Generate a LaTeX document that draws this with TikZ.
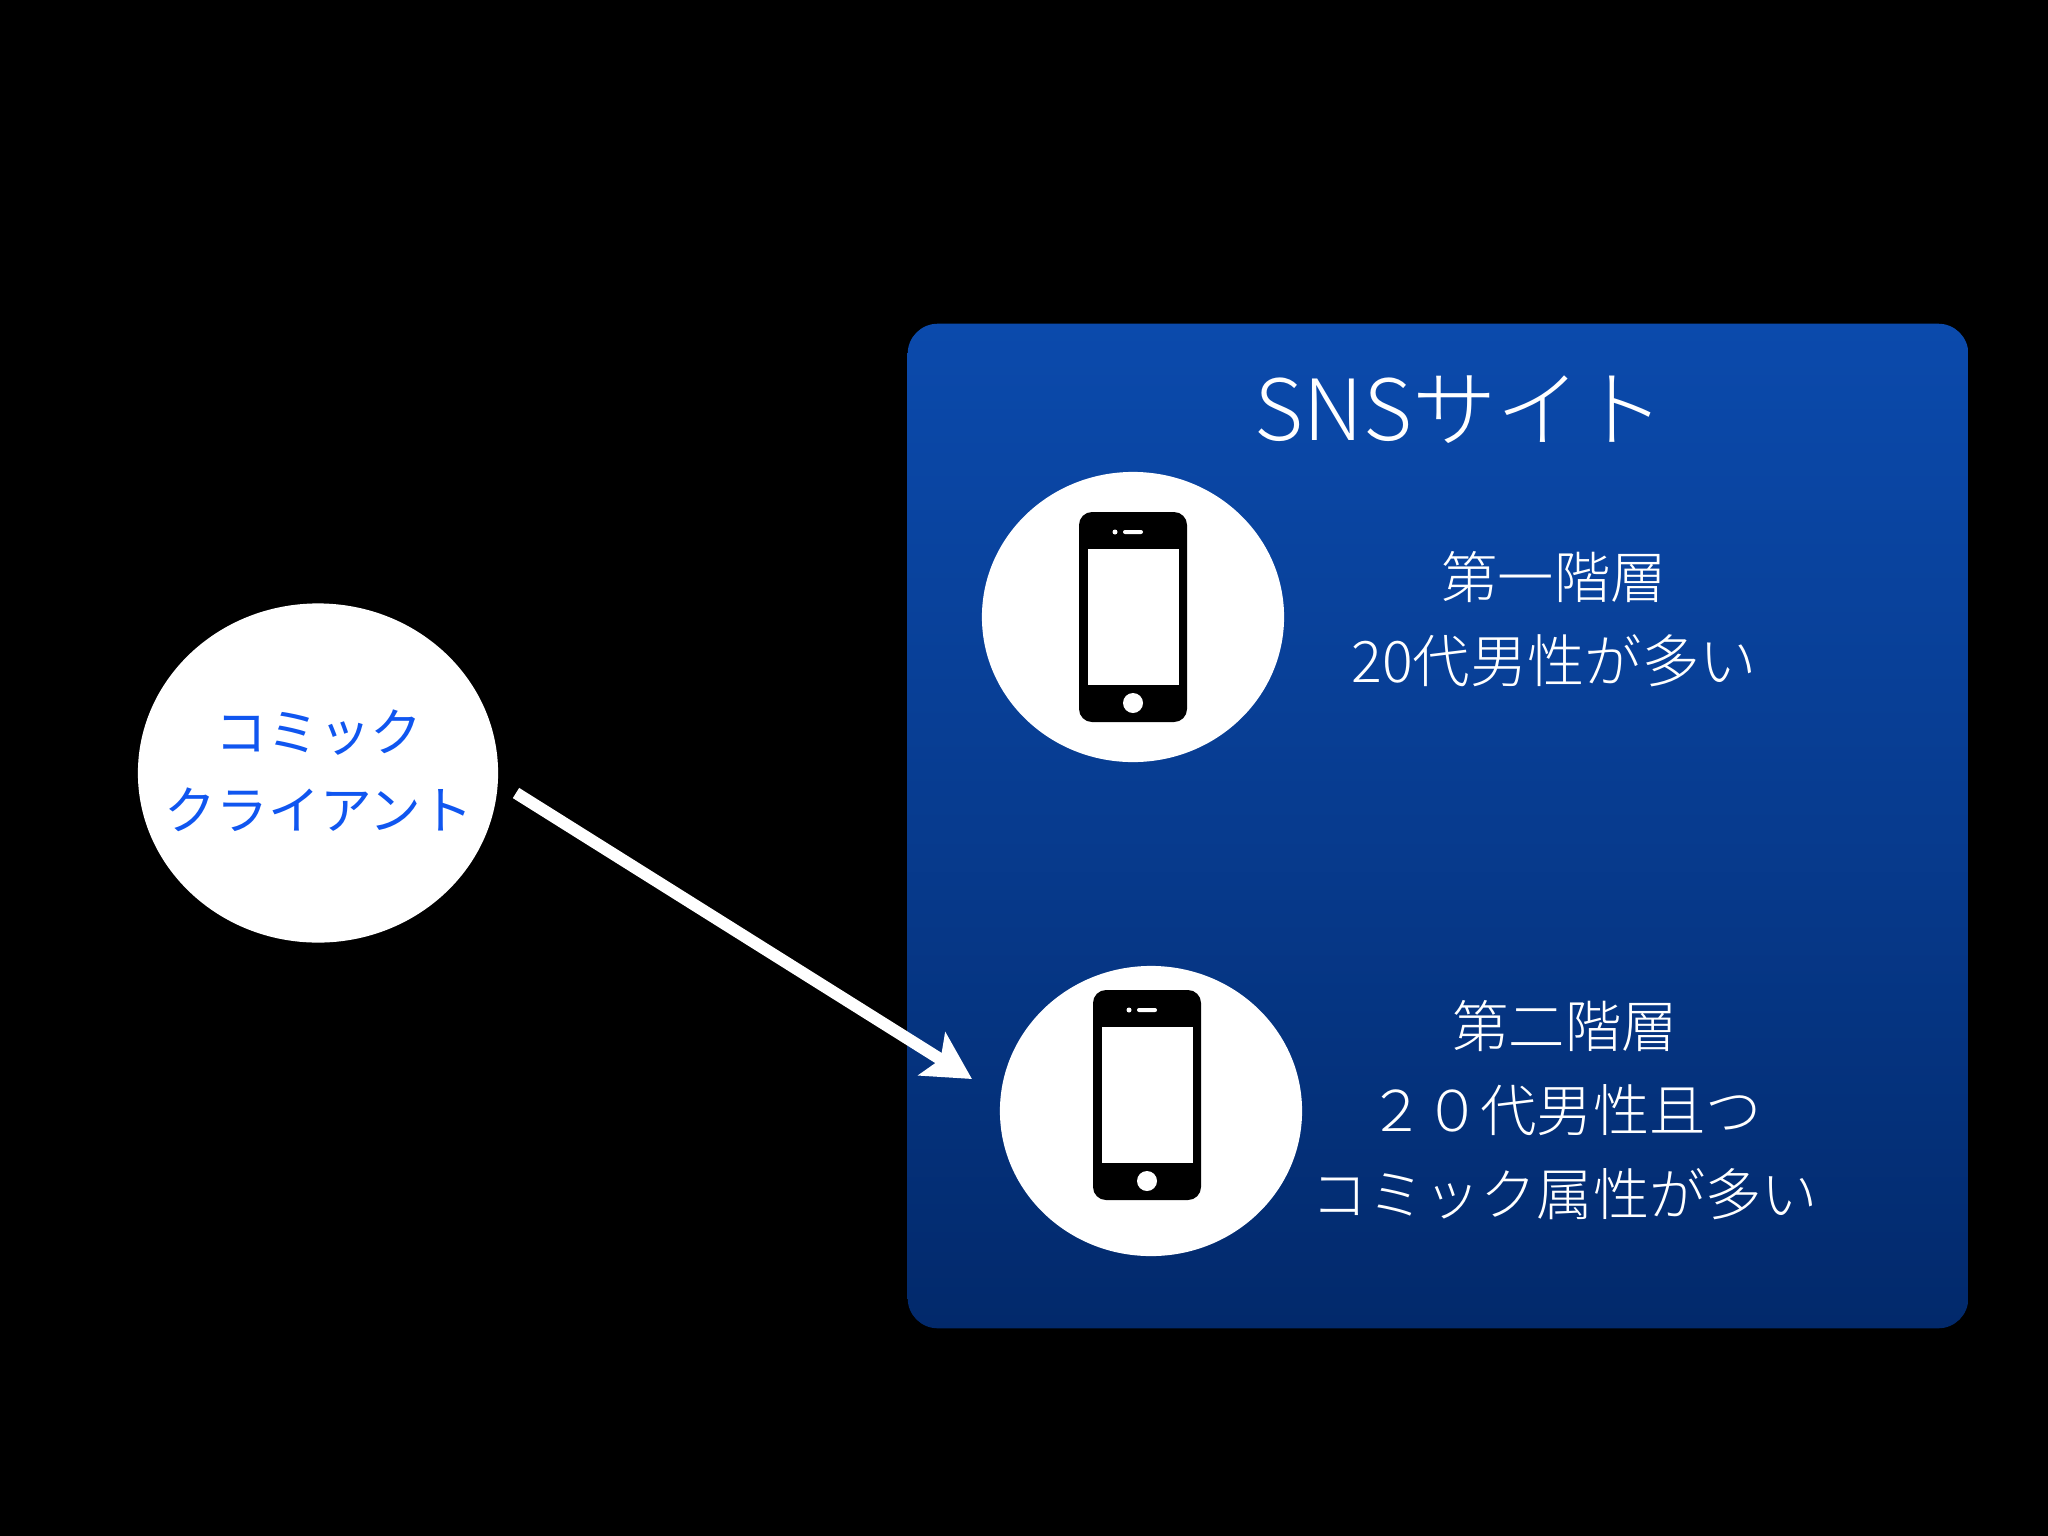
\documentclass[tikz,border=0pt]{standalone}
\usepackage{fontspec}
\setmainfont{Noto Sans CJK JP Light}
\newfontfamily\regularfont{Noto Sans CJK JP}
\usetikzlibrary{arrows.meta,shapes.geometric}
\definecolor{boxtop}{HTML}{0B4AAC}
\definecolor{boxbot}{HTML}{02296B}
\definecolor{clientblue}{HTML}{1056F0}
\tikzset{
  x=0.01cm,y=-0.01cm,
  panel/.style={draw=none,rectangle,rounded corners=0.3cm,top color=boxtop,bottom color=boxbot,middle color=boxtop!55!boxbot,minimum width=10.60cm,minimum height=10.04cm},
  disc/.style={ellipse,fill=white,draw=none,inner sep=0pt},
  phonedisc/.style={disc,minimum width=3.02cm,minimum height=2.90cm},
  phonebody/.style={fill=black,rounded corners=0.13cm},
  whitefill/.style={fill=white},
  panellabel/.style={text=white,align=center,font=\fontsize{16}{23.9}\selectfont,inner sep=0pt},
  clientlabel/.style={text=clientblue,align=center,font=\regularfont\fontsize{14.7}{22.2}\selectfont,inner sep=0pt},
  titlelabel/.style={text=white,font=\fontsize{24}{28}\selectfont,inner sep=0pt},
  flow/.style={draw=white,line width=0.12cm,-{Stealth[length=0.47cm,width=0.5cm,inset=0.1cm]}},
  phone/.pic={
    \path[phonebody] (-54,-105) rectangle (54,105);
    \path[whitefill] (-45,-68) rectangle (46,68);
    \path[whitefill] (0,86) circle (0.1cm);
    \path[whitefill,rounded corners=0.02cm] (-10,-87) rectangle (10,-83);
    \path[whitefill] (-18,-85) circle (0.025cm);
  }
}
\begin{document}
\begin{tikzpicture}
\useasboundingbox (0,0) rectangle (2048,1536);
\fill[black] (0,0) rectangle (2048,1536);
\node[panel] (site) at (1438,826) {};
\node[titlelabel] (title) at (1460,410) {SNSサイト};
\node[phonedisc] (disc1) at (1133,617) {};
\node[phonedisc] (disc2) at (1151,1111) {};
\pic at (1133,617) {phone};
\pic at (1147,1095) {phone};
\node[panellabel] (t1) at (1554,619) {第一階層\\{\fontsize{16.3}{23.9}\selectfont 20代男性が多い}};
\node[panellabel] (t2) at (1565,1110) {第二階層\\２０代男性且つ\\コミック属性が多い};
\node[disc,minimum width=3.60cm,minimum height=3.39cm] (client) at (318,773) {};
\node[clientlabel] (ct) at (319,771) {コミック\\クライアント};
\coordinate (from) at (516,793);
\coordinate (to) at (972,1079);
\draw[flow] (from) -- (to);
\end{tikzpicture}
\end{document}
